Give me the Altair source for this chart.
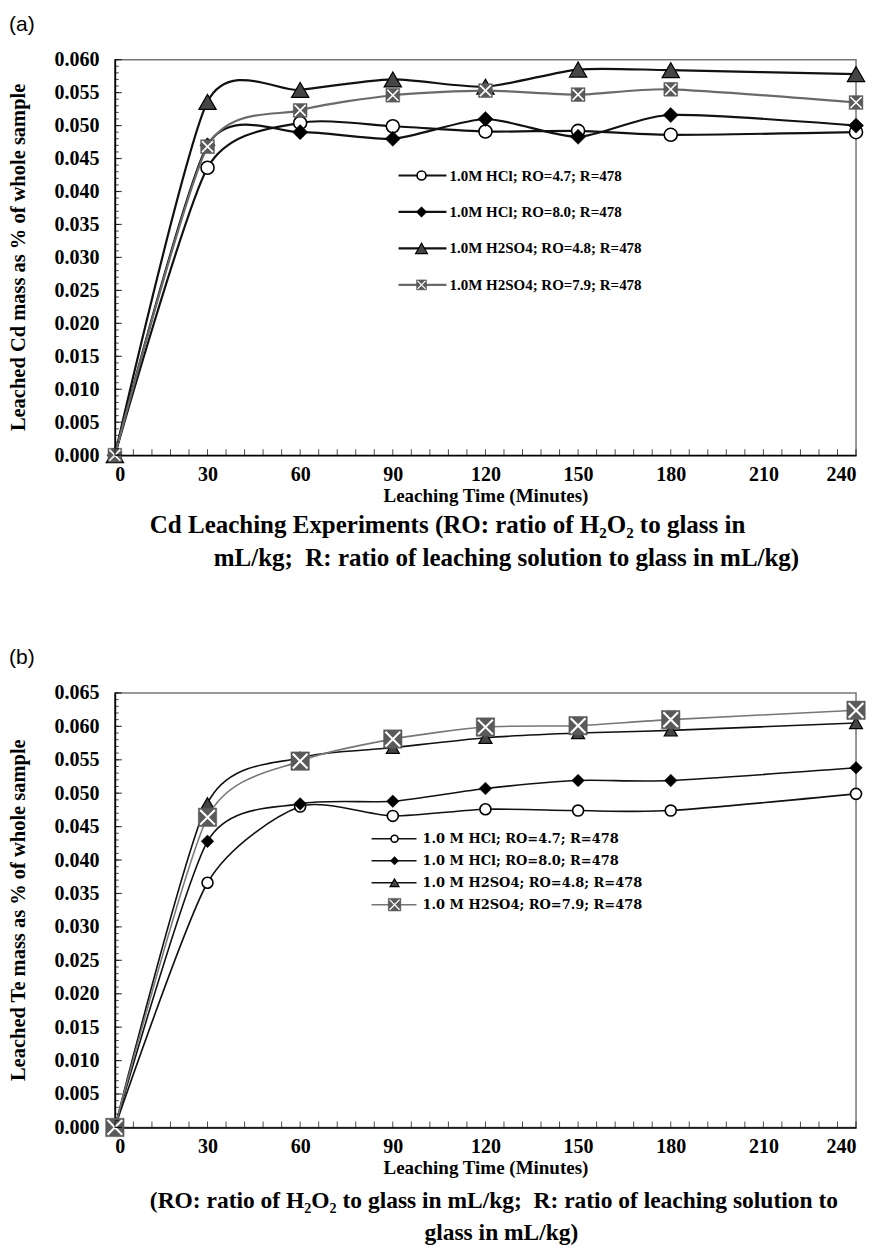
import altair as alt
import pandas as pd

# ---------------- data ----------------
TIME_MIN = [0, 30, 60, 90, 120, 150, 180, 240]

CD_HCL_RO47 = [0.0, 0.0436, 0.0504, 0.0499, 0.0491, 0.0492, 0.0486, 0.0490]
CD_HCL_RO80 = [0.0, 0.0470, 0.0490, 0.0480, 0.0510, 0.0483, 0.0516, 0.0500]
CD_H2SO4_RO48 = [0.0, 0.0536, 0.0554, 0.0570, 0.0559, 0.0585, 0.0584, 0.0578]
CD_H2SO4_RO79 = [0.0, 0.0468, 0.0523, 0.0546, 0.0553, 0.0547, 0.0555, 0.0535]

TE_HCL_RO47 = [0.0, 0.0366, 0.0480, 0.0466, 0.0476, 0.0474, 0.0474, 0.0499]
TE_HCL_RO80 = [0.0, 0.0428, 0.0484, 0.0488, 0.0507, 0.0519, 0.0519, 0.0538]
TE_H2SO4_RO48 = [0.0, 0.0485, 0.0553, 0.0568, 0.0583, 0.0590, 0.0594, 0.0605]
TE_H2SO4_RO79 = [0.0, 0.0464, 0.0548, 0.0581, 0.0599, 0.0601, 0.0610, 0.0624]

CD_LABELS = ["1.0M HCl; RO=4.7; R=478", "1.0M HCl; RO=8.0; R=478",
             "1.0M H2SO4; RO=4.8; R=478", "1.0M H2SO4; RO=7.9; R=478"]
TE_LABELS = ["1.0 M  HCl; RO=4.7; R=478", "1.0 M  HCl; RO=8.0; R=478",
             "1.0 M  H2SO4; RO=4.8; R=478", "1.0 M  H2SO4; RO=7.9; R=478"]

CD_Y_TICKS = [0.000, 0.005, 0.010, 0.015, 0.020, 0.025, 0.030,
              0.035, 0.040, 0.045, 0.050, 0.055, 0.060]
TE_Y_TICKS = CD_Y_TICKS + [0.065]
X_TICKS = [0, 30, 60, 90, 120, 150, 180, 210, 240]
X_MINOR = list(range(0, 241, 6))

CD_YTITLE = "Leached Cd mass as % of whole sample"
TE_YTITLE = "Leached Te mass as % of whole sample"
XTITLE = "Leaching Time (Minutes)"
NB = "\u00a0"
CD_CAPTION = ["Cd Leaching Experiments (RO: ratio of H\u2082O\u2082 to glass in",
              "mL/kg;" + NB + " R: ratio of leaching solution to glass in mL/kg)"]
TE_CAPTION = ["(RO: ratio of H\u2082O\u2082 to glass in mL/kg;" + NB + " R: ratio of leaching solution to",
              "glass in mL/kg)"]

SERIF = "Liberation Serif"


def marker_marks(kind, size, scale_k=1.0):
    if kind == "circle":
        return [dict(shape="circle", filled=True, fill="white",
                     stroke="black", strokeWidth=1.6, size=size, opacity=1)]
    if kind == "diamond":
        return [dict(shape="diamond", filled=True, fill="black",
                     stroke="black", strokeWidth=0.5, size=size, opacity=1)]
    if kind == "triangle":
        return [dict(shape="triangle-up", filled=True, fill="#454545",
                     stroke="black", strokeWidth=1.2, size=size, opacity=1)]
    if kind == "xbox":
        return [dict(shape="square", filled=True, fill="#5a5a5a",
                     stroke="#5a5a5a", strokeWidth=0.5, size=size, opacity=1),
                dict(shape="M-0.8,-0.8L0.8,0.8M-0.8,0.8L0.8,-0.8",
                     filled=False, stroke="white", strokeWidth=1.6 * scale_k,
                     size=size, opacity=1)]
    return []


def panel(series, labels, yticks, ymax, W, H, ytitle, ytitle_fs, caption, caption_x,
          caption_y, caption_size, tag, legend, styles):
    xs = alt.Scale(domain=[0, 240], nice=False, zero=False)
    ys = alt.Scale(domain=[0, ymax], nice=False, zero=False)
    X = alt.X("time:Q", scale=xs,
              axis=alt.Axis(values=X_TICKS, format="d", ticks=False, grid=False,
                            labelPadding=9, title=XTITLE, titlePadding=2))
    Y = alt.Y("value:Q", scale=ys,
              axis=alt.Axis(values=yticks, format=".3f", ticks=False, grid=False,
                            labelPadding=16, title=None))
    layers = []
    for vals, lab, st in zip(series, labels, styles):
        df = pd.DataFrame({"time": TIME_MIN, "value": vals, "series": lab})
        base = alt.Chart(df)
        layers.append(base.mark_line(interpolate="cardinal", tension=0.3, color=st["color"],
                                     strokeWidth=st["lw"]).encode(x=X, y=Y, order="time:Q"))
        for md in marker_marks(st["marker"], st["size"], st.get("k", 1.0)):
            layers.append(base.mark_point(**md).encode(x=X, y=Y))

    # inward axis ticks (same fields/encodings as the data so axes merge)
    ymin_df = pd.DataFrame({"value": [i / 1000 for i in range(0, int(round(ymax * 1000)) + 1)]})
    ymaj_df = pd.DataFrame({"value": yticks})
    xmin_df = pd.DataFrame({"time": X_MINOR})
    layers.append(alt.Chart(ymin_df).mark_tick(orient="horizontal", size=4, thickness=1,
                                               color="black").encode(y=Y, x=alt.value(2)))
    layers.append(alt.Chart(ymaj_df).mark_tick(orient="horizontal", size=7, thickness=1.2,
                                               color="black").encode(y=Y, x=alt.value(3.5)))
    layers.append(alt.Chart(xmin_df).mark_tick(orient="vertical", size=6, thickness=1,
                                               color="black").encode(x=X, y=alt.value(H - 3)))

    # legend (manual)
    for i, (lab, st) in enumerate(zip(labels, styles)):
        ly = legend["y0"] + legend["dy"] * i
        lb = alt.Chart(pd.DataFrame({"label": [lab]}))
        layers.append(lb.mark_rule(color=st["color"], strokeWidth=st["lw"]).encode(
            x=alt.value(legend["x0"]), x2=alt.value(legend["x1"]), y=alt.value(ly)))
        for md in marker_marks(st["marker"], legend["msize"][i], 0.8):
            layers.append(lb.mark_point(**md).encode(x=alt.value(legend["xm"]), y=alt.value(ly)))
        layers.append(lb.mark_text(align="left", baseline="middle", font=legend["font"],
                                   fontSize=legend["fs"], fontWeight="bold", color="black").encode(
            x=alt.value(legend["xt"]), y=alt.value(ly), text="label:N"))

    one = alt.Chart(pd.DataFrame({"t": [ytitle]}))
    layers.append(one.mark_text(angle=270, align="center", baseline="middle", font=SERIF,
                                fontSize=ytitle_fs, fontWeight="bold", color="black").encode(
        x=alt.value(-96), y=alt.value(H / 2), text="t:N"))
    tag_c = alt.Chart(pd.DataFrame({"t": [tag]}))
    layers.append(tag_c.mark_text(align="left", baseline="middle", font="Liberation Sans",
                                  fontSize=21, color="black").encode(
        x=alt.value(-106), y=alt.value(-35), text="t:N"))
    for j, line in enumerate(caption):
        cc = alt.Chart(pd.DataFrame({"t": [line]}))
        layers.append(cc.mark_text(align=caption_x[j][0], baseline="middle", font=SERIF,
                                   fontSize=caption_size, fontWeight="bold", color="black").encode(
            x=alt.value(caption_x[j][1]), y=alt.value(H + caption_y[j]), text="t:N"))

    return alt.layer(*layers).properties(width=W, height=H)


STYLE_A = [
    {"color": "#111111", "lw": 2.2, "marker": "circle", "size": 170},
    {"color": "#111111", "lw": 2.2, "marker": "diamond", "size": 230},
    {"color": "#111111", "lw": 2.2, "marker": "triangle", "size": 300},
    {"color": "#6a6a6a", "lw": 2.2, "marker": "xbox", "size": 190},
]
STYLE_B = [
    {"color": "#111111", "lw": 1.6, "marker": "circle", "size": 121},
    {"color": "#111111", "lw": 1.6, "marker": "diamond", "size": 160},
    {"color": "#111111", "lw": 1.6, "marker": "triangle", "size": 170},
    {"color": "#777777", "lw": 1.6, "marker": "xbox", "size": 340, "k": 1.3},
]

W = 742
HA = 396
HB = 435

pa = panel([CD_HCL_RO47, CD_HCL_RO80, CD_H2SO4_RO48, CD_H2SO4_RO79], CD_LABELS,
           CD_Y_TICKS, 0.060, W, HA, CD_YTITLE, 20.5, CD_CAPTION,
           [("left", 35), ("left", 99)], [70, 103], 25, "(a)",
           {"x0": 284, "x1": 332, "xm": 307, "xt": 335, "y0": 116, "dy": 36.5,
            "msize": [80, 110, 140, 100], "fs": 15, "font": SERIF},
           STYLE_A)
pb = panel([TE_HCL_RO47, TE_HCL_RO80, TE_H2SO4_RO48, TE_H2SO4_RO79], TE_LABELS,
           TE_Y_TICKS, 0.065, W, HB, TE_YTITLE, 20.5, TE_CAPTION,
           [("left", 35), ("center", 387)], [74, 106], 23.5, "(b)",
           {"x0": 257, "x1": 302, "xm": 280, "xt": 308, "y0": 146, "dy": 22,
            "msize": [50, 70, 80, 160], "fs": 13, "font": "DejaVu Serif"},
           STYLE_B)

chart = alt.vconcat(pa, pb, spacing=238, bounds="flush").properties(
    padding={"left": 8, "top": 12, "right": 5, "bottom": 5}
).configure_view(stroke="#777777", strokeWidth=1.5).configure_axis(
    labelFont=SERIF, labelFontSize=20, labelFontWeight="bold", labelColor="black",
    titleFont=SERIF, titleFontSize=19, titleFontWeight="bold", titleColor="black",
    domainColor="black", domainWidth=1.6
)

chart.save("out.html", embed_options={"renderer": "svg", "actions": False})
